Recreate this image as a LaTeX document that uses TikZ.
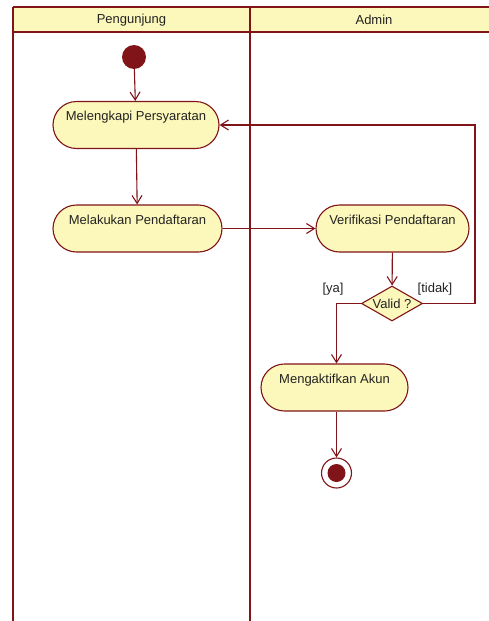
\documentclass[tikz,border=0pt]{standalone}
\usepackage{fontspec}
\setmainfont{Liberation Sans}
\usetikzlibrary{arrows.meta,shapes.geometric}
\definecolor{umlred}{RGB}{128,20,24}
\definecolor{umlfill}{RGB}{252,247,186}
\definecolor{umltext}{RGB}{35,35,35}
\tikzset{
  lane/.style={draw=umlred, line width=2.6pt},
  action/.style={draw=umlred, fill=umlfill, line width=1.1pt, rounded corners=23.5pt,
    minimum height=47pt, text=umltext, font=\fontsize{13}{15}\selectfont,
    text height=9pt, text depth=18pt, inner sep=0pt},
  decision/.style={diamond, draw=umlred, fill=umlfill, line width=1.1pt, aspect=1.75,
    minimum width=61pt, minimum height=35pt, inner sep=0pt, text=umltext,
    font=\fontsize{13}{15}\selectfont},
  flow/.style={draw=umlred, line width=1.1pt, -{Straight Barb[length=8pt,width=10pt,line width=1.1pt]}},
  line/.style={draw=umlred, line width=1.1pt},
  guard/.style={text=umltext, font=\fontsize{13}{15}\selectfont, inner sep=0pt},
  header/.style={text=umltext, font=\fontsize{13}{15}\selectfont, inner sep=0pt}
}
\begin{document}
\begin{tikzpicture}[x=1pt,y=-1pt]
\useasboundingbox (0,0) rectangle (489,621);
% swimlane headers
\fill[umlfill] (13,7) rectangle (500,32);
\draw[lane] (13,7) -- (500,7);
\draw[lane] (13,32) -- (500,32);
\draw[lane] (13,7) -- (13,625);
\draw[lane] (250,7) -- (250,625);
\node[header] (h1) at (131.5,20) {Pengunjung};
\node[header] (h2) at (374,20) {Admin};
% start node
\node[circle, fill=umlred, minimum size=24pt, inner sep=0pt] (init) at (134,57) {};
% actions
\node[action, minimum width=166pt] (lengkap) at (136,125) {Melengkapi Persyaratan};
\node[action, minimum width=169pt] (daftar) at (137.5,228.5) {Melakukan Pendaftaran};
\node[action, minimum width=153pt] (verif) at (392.5,228.5) {Verifikasi Pendaftaran};
\node[decision] (valid) at (392,303.5) {Valid ?};
\node[action, minimum width=147pt] (aktif) at (334.5,387.5) {Mengaktifkan Akun};
% final node
\node[circle, draw=umlred, fill=white, line width=1.1pt, minimum size=30pt, inner sep=0pt] (final) at (336.5,473) {};
\node[circle, fill=umlred, minimum size=18pt, inner sep=0pt] (finalin) at (final) {};
% guards
\node[guard] (gya) at (333,289) {[ya]};
\node[guard] (gtidak) at (435,289) {[tidak]};
% flows
\coordinate (back) at (475,303.5);
\draw[flow] (init) -- (lengkap);
\draw[flow] (lengkap) -- (daftar);
\draw[flow] (daftar) -- (verif);
\draw[flow] (verif) -- (valid);
\draw[flow] (valid.west) -| ([xshift=2pt]aktif.north);
\draw[line] (valid.east) -- (back);
\draw[flow] (back) |- (lengkap.east);
\draw[flow] ([xshift=2pt]aktif.south) -- (final);
\end{tikzpicture}
\end{document}
